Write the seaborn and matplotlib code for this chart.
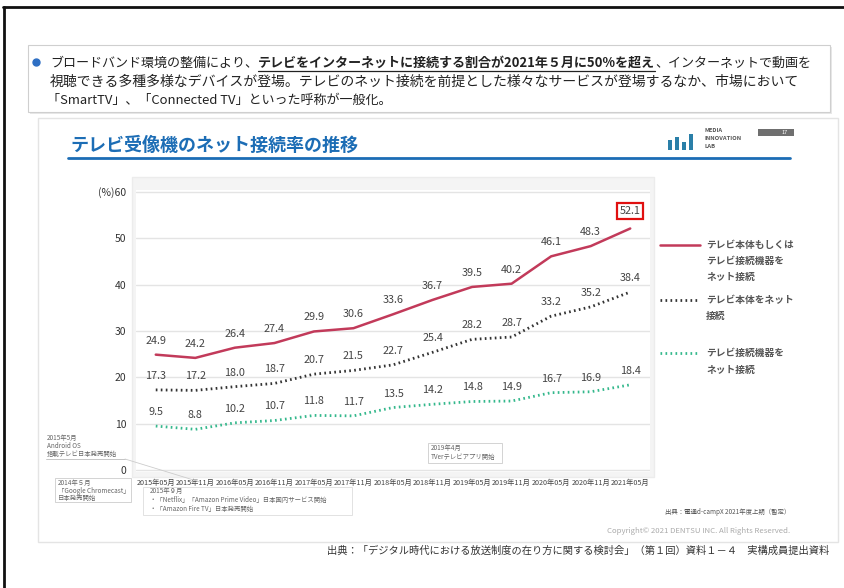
import matplotlib
matplotlib.use("Agg")
import matplotlib.pyplot as plt
from matplotlib.patches import Rectangle
from matplotlib.lines import Line2D
import seaborn as sns
import pandas as pd

# ---------------- data ----------------
periods = ["2015年05月", "2015年11月", "2016年05月", "2016年11月", "2017年05月",
           "2017年11月", "2018年05月", "2018年11月", "2019年05月", "2019年11月",
           "2020年05月", "2020年11月", "2021年05月"]
tv_or_device = [24.9, 24.2, 26.4, 27.4, 29.9, 30.6, 33.6, 36.7, 39.5, 40.2, 46.1, 48.3, 52.1]
tv_body = [17.3, 17.2, 18.0, 18.7, 20.7, 21.5, 22.7, 25.4, 28.2, 28.7, 33.2, 35.2, 38.4]
device = [9.5, 8.8, 10.2, 10.7, 11.8, 11.7, 13.5, 14.2, 14.8, 14.9, 16.7, 16.9, 18.4]
series_names = ["テレビ本体もしくは\nテレビ接続機器を\nネット接続", "テレビ本体をネット\n接続", "テレビ接続機器を\nネット接続"]
yticks = [0, 10, 20, 30, 40, 50, 60]
ytick_labels = ["0", "10", "20", "30", "40", "50", "(%)60"]

RED = "#c23a5a"
DARK = "#333333"
GREEN = "#34b88c"
BLUE = "#1c6db5"

sns.set_theme(style="white")
plt.rcParams["font.family"] = ["Noto Sans CJK JP", "DejaVu Sans"]

W, H = 845, 588
fig = plt.figure(figsize=(W / 100, H / 100), dpi=100)
fig.patch.set_facecolor("white")


def fx(x):
    return x / W


def fy(y):
    return 1 - y / H


def ftext(x, y, s, **kw):
    kw.setdefault("va", "center")
    kw.setdefault("zorder", 5)
    return fig.text(fx(x), fy(y), s, **kw)


def fline(xs, ys, **kw):
    kw.setdefault("zorder", 5)
    fig.add_artist(Line2D([fx(v) for v in xs], [fy(v) for v in ys],
                          transform=fig.transFigure, **kw))


def frect(x0, y0, x1, y1, **kw):
    kw.setdefault("zorder", -5)
    fig.add_artist(Rectangle((fx(x0), fy(y1)), fx(x1) - fx(x0), fy(y0) - fy(y1),
                             transform=fig.transFigure, **kw))


# outer frame
fline([3, 845], [7, 7], color="#111111", lw=2)
fline([4, 4], [7, 588], color="#111111", lw=2)

# header box
frect(30, 47, 832, 114, facecolor="#e8e8e8", edgecolor="none", zorder=-6)
frect(28, 45, 830, 112, facecolor="white", edgecolor="#cfcfcf", lw=0.8)
fig.add_artist(Line2D([fx(36)], [fy(62)], marker="o", markersize=5, color="#2e6fc4",
                      transform=fig.transFigure))

renderer = fig.canvas.get_renderer()
HS = 9.4
t1 = ftext(50, 63, "ブロードバンド環境の整備により、", fontsize=HS, color="#222222")
bb = t1.get_window_extent(renderer)
t2 = fig.text(bb.x1 / W, fy(63), "テレビをインターネットに接続する割合が2021年５月に50%を超え",
              fontsize=HS, color="#222222", fontweight="bold", va="center")
bb2 = t2.get_window_extent(renderer)
fline([bb2.x0, bb2.x1], [71, 71], color="#222222", lw=0.9)
fig.text(bb2.x1 / W, fy(63), "、インターネットで動画を", fontsize=HS, color="#222222", va="center")
ftext(50, 82, "視聴できる多種多様なデバイスが登場。テレビのネット接続を前提とした様々なサービスが登場するなか、市場において",
      fontsize=10, color="#222222")
ftext(47, 100, "「SmartTV」、「Connected TV」といった呼称が一般化。", fontsize=HS, color="#222222")

# inner slide
frect(38, 118, 838, 542, facecolor="none", edgecolor="#e4e4e4", lw=1.0)

# title
ftext(70, 145, "テレビ受像機のネット接続率の推移", fontsize=13, color=BLUE, fontweight="bold")
fline([68, 790], [158, 158], color=BLUE, lw=2)

# logo
for bx, bh in [(668, 10), (675, 13), (682, 8), (689, 16)]:
    frect(bx, 150 - bh, bx + 4, 150, facecolor="#2a7fa8", edgecolor="none", zorder=3)
ftext(705, 131, "MEDIA", fontsize=4.2, color="#555555", fontweight="bold")
ftext(705, 139, "INNOVATION", fontsize=4.2, color="#555555", fontweight="bold")
ftext(705, 147, "LAB", fontsize=4.2, color="#555555", fontweight="bold")
frect(758, 129, 794, 136, facecolor="#6f6f6f", edgecolor="none", zorder=3)
ftext(788, 132.5, "17", fontsize=4, color="white", ha="right")

# chart panel
frect(132, 177, 654, 477, facecolor="#f4f4f4", edgecolor="#ececec", lw=1)
ax = fig.add_axes([fx(136), fy(472), fx(650) - fx(136), fy(190) - fy(472)])
ax.set_zorder(2)
ax.set_facecolor("white")

df = pd.DataFrame({
    "x": list(range(len(periods))) * 3,
    "value": tv_or_device + tv_body + device,
    "series": [series_names[0]] * 13 + [series_names[1]] * 13 + [series_names[2]] * 13,
})
sns.lineplot(data=df[df.series == series_names[0]], x="x", y="value", ax=ax,
             color=RED, lw=1.8, legend=False)
sns.lineplot(data=df[df.series == series_names[1]], x="x", y="value", ax=ax,
             color=DARK, lw=2.0, legend=False, linestyle=(0, (0.6, 1.2)))
sns.lineplot(data=df[df.series == series_names[2]], x="x", y="value", ax=ax,
             color=GREEN, lw=2.0, legend=False, linestyle=(0, (0.6, 1.2)))

ax.set_xlim(-0.5, len(periods) - 0.5)
ax.set_ylim(-0.4, 60.4)
ax.set_yticks(yticks)
ax.set_yticklabels(ytick_labels, fontsize=7.5, color="#333333")
ax.set_xticks(range(len(periods)))
ax.set_xticklabels(periods, fontsize=5.2, color="#444444")
ax.tick_params(axis="y", length=0, pad=7)
ax.tick_params(axis="x", length=0, pad=5)
ax.set_xlabel("")
ax.set_ylabel("")
for s in ax.spines.values():
    s.set_visible(False)
for yv in yticks:
    ax.axhline(yv, color="#e4e4e4", lw=1.0, zorder=0)

for vals in (tv_or_device, tv_body, device):
    for i, v in enumerate(vals[:-1] if vals is tv_or_device else vals):
        ax.annotate(f"{v:.1f}", (i, v), xytext=(0, 6.5), textcoords="offset points",
                    ha="center", va="bottom", fontsize=7.8, color="#444444")
# highlight last red value
last = len(tv_or_device) - 1
ax.annotate(f"{tv_or_device[last]:.1f}", (last, tv_or_device[last]), xytext=(0, 9),
            textcoords="offset points", ha="center", va="bottom", fontsize=7.8,
            color="#444444",
            bbox=dict(boxstyle="square,pad=0.25", fc="white", ec="#e01010", lw=1.6))

# legend (manual)
fline([660, 700], [245, 245], color=RED, lw=1.8)
for k, line in enumerate(series_names[0].split("\n")):
    ftext(706, 245 + 16 * k, line, fontsize=7, color="#555555", fontweight="bold")
fline([660, 700], [300, 300], color=DARK, lw=2.0, linestyle=(0, (0.6, 1.2)))
for k, line in enumerate(series_names[1].split("\n")):
    ftext(706, 300 + 16 * k, line, fontsize=7, color="#555555", fontweight="bold")
fline([660, 700], [353, 353], color=GREEN, lw=2.0, linestyle=(0, (0.6, 1.2)))
for k, line in enumerate(series_names[2].split("\n")):
    ftext(706, 353 + 17 * k, line, fontsize=7, color="#555555", fontweight="bold")

# annotations
AC = "#666666"
AS = 4.6
ftext(47, 438, "2015年5月", fontsize=AS, color=AC)
ftext(47, 446, "Android OS", fontsize=AS, color=AC)
ftext(47, 454, "搭載テレビ日本発売開始", fontsize=AS, color=AC)
fline([46, 125], [459, 459], color="#bbbbbb", lw=0.6)
fline([125, 200], [459, 482], color="#cccccc", lw=0.6)

frect(55, 478, 131, 502, facecolor="white", edgecolor="#cccccc", lw=0.6, zorder=3)
ftext(58, 483, "2014年５月", fontsize=AS, color=AC)
ftext(58, 491, "「Google Chromecast」", fontsize=AS, color=AC)
ftext(58, 498, "日本発売開始", fontsize=AS, color=AC)

frect(143, 487, 352, 515, facecolor="white", edgecolor="#dddddd", lw=0.6, zorder=3)
ftext(150, 491, "2015年９月", fontsize=AS, color=AC)
ftext(150, 500, "・「Netflix」「Amazon Prime Video」日本国内サービス開始", fontsize=AS, color=AC)
ftext(150, 509, "・「Amazon Fire TV」日本発売開始", fontsize=AS, color=AC)

frect(428, 443, 502, 463, facecolor="white", edgecolor="#cccccc", lw=0.6, zorder=3)
ftext(431, 448, "2019年4月", fontsize=AS, color=AC)
ftext(431, 457, "TVerテレビアプリ開始", fontsize=AS, color=AC)

# sources
ftext(790, 512, "出典：電通d-campX 2021年度上期（暫定）", fontsize=4.6, color="#555555", ha="right")
ftext(790, 531, "Copyright© 2021 DENTSU INC. All Rights Reserved.", fontsize=5.6, color="#aaaaaa", ha="right")
ftext(829, 551, "出典：「デジタル時代における放送制度の在り方に関する検討会」（第１回）資料１－４　実構成員提出資料",
      fontsize=7.4, color="#333333", ha="right")

fig.savefig("out.png", dpi=100)
